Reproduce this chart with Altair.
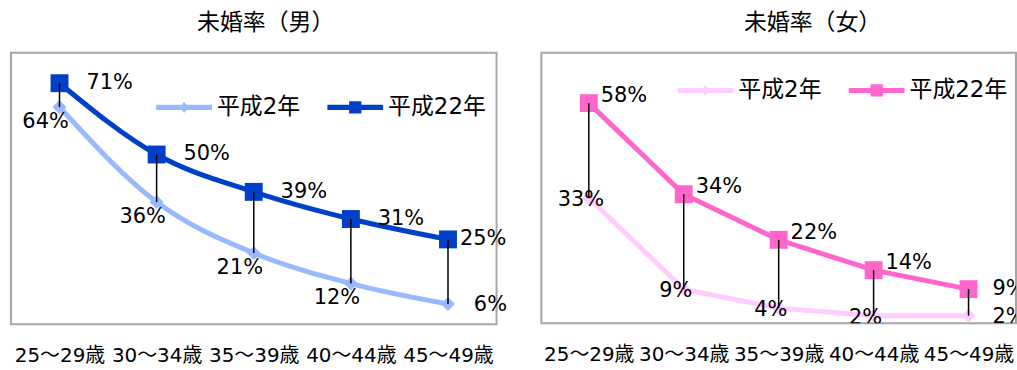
import altair as alt
import pandas as pd

categories = ["25～29歳", "30～34歳", "35～39歳", "40～44歳", "45～49歳"]
series_names = ["平成2年", "平成22年"]
male_h2 = [64, 36, 21, 12, 6]
male_h22 = [71, 50, 39, 31, 25]
female_h2 = [33, 9, 4, 2, 2]
female_h22 = [58, 34, 22, 14, 9]

male_colors = ["#99B9FF", "#0040C8"]
female_colors = ["#FFCCFF", "#FF66CC"]

FONT = "DejaVu Sans, Noto Sans CJK JP"
CJK = "Noto Sans CJK JP"

LEGEND_LINE = "M-1,-0.09L1,-0.09L1,0.09L-1,0.09Z"
SQUARE_PATH = LEGEND_LINE + " M-0.22,-0.22L0.22,-0.22L0.22,0.22L-0.22,0.22Z"
DIAMOND_PATH = LEGEND_LINE + " M-0.15,0L0,-0.2L0.15,0L0,0.2Z"


def panel(title, h2, h22, ymax, colors, interp, title_dx, title_offset,
          legend_x, legend_y, clip, width, height, h22_off, h2_off, last_h22, last_h2):
    n = len(categories)
    long = pd.DataFrame({
        "cat": categories * 2,
        "series": [series_names[0]] * n + [series_names[1]] * n,
        "value": h2 + h22,
        "idx": list(range(n)) * 2,
    })
    wide = pd.DataFrame({"cat": categories, "h2": h2, "h22": h22})

    x = alt.X("cat:N", sort=categories,
              scale=alt.Scale(type="point", padding=0.5),
              axis=alt.Axis(title=None, labelAngle=0, domain=False, ticks=False,
                            grid=False, labelFont=FONT, labelFontSize=20,
                            labelColor="black", labelPadding=21,
                            labelOverlap=False))
    yscale = alt.Scale(domain=[0, ymax], nice=False, zero=True)
    y = alt.Y("value:Q", scale=yscale, axis=None)

    base = alt.Chart(long).transform_calculate(label="datum.value + '%'")
    s0 = f"datum.series == '{series_names[0]}'"
    s1 = f"datum.series == '{series_names[1]}'"

    layers = []
    layers.append(base.transform_filter(s0).mark_line(
        color=colors[0], strokeWidth=5, interpolate=interp).encode(x=x, y=y))
    layers.append(base.transform_filter(s1).mark_line(
        color=colors[1], strokeWidth=5, interpolate=interp).encode(x=x, y=y))
    layers.append(base.transform_filter(s0).mark_point(
        shape="diamond", filled=True, size=200, color=colors[0], opacity=1,
        strokeWidth=0).encode(x=x, y=y))
    layers.append(base.transform_filter(s1).mark_square(
        size=324, color=colors[1], opacity=1, strokeWidth=0).encode(x=x, y=y))
    layers.append(alt.Chart(wide).mark_rule(color="black", strokeWidth=1.5).encode(
        x=x, y=alt.Y("h2:Q", scale=yscale, axis=None), y2="h22:Q"))

    def txt(filt, align, dx, dy):
        return base.transform_filter(filt).mark_text(
            font=FONT, fontSize=21, color="black", align=align, baseline="middle",
            dx=dx, dy=dy, clip=clip).encode(x=x, y=y, text="label:N")

    last = f"datum.idx == {n - 1}"
    notlast = f"datum.idx < {n - 1}"
    layers.append(txt(f"{s1} && {notlast}", "left", *h22_off))
    layers.append(txt(f"{s1} && {last}", "left", *last_h22))
    layers.append(txt(f"{s0} && {notlast}", "center", *h2_off))
    layers.append(txt(f"{s0} && {last}", "left", *last_h2))

    leg = alt.Legend(title=None, orient="none", legendX=legend_x, legendY=legend_y,
                     direction="horizontal", symbolSize=3136, symbolStrokeWidth=0,
                     labelFont=FONT, labelFontSize=23, labelColor="black",
                     labelOffset=5, columnPadding=27, padding=0, symbolOpacity=1)
    layers.append(base.transform_filter("false").mark_point(filled=True).encode(
        x=x, y=y,
        color=alt.Color("series:N", scale=alt.Scale(domain=series_names, range=colors),
                        legend=leg),
        shape=alt.Shape("series:N",
                        scale=alt.Scale(domain=series_names,
                                        range=[DIAMOND_PATH, SQUARE_PATH]),
                        legend=leg)))

    return alt.layer(*layers).properties(
        width=width, height=height,
        title=alt.TitleParams(text=title, font=CJK, fontSize=23, fontWeight="normal",
                              color="black", anchor="middle", offset=18,
                              dx=title_dx))


left = panel("未婚率（男）", male_h2, male_h22, 80, male_colors, "monotone",
             12, 18, 146, 27, False, 488, 273,
             (27, 0), (-14, 15), (12, 0), (26, 1))
right = panel("未婚率（女）", female_h2, female_h22, 71.3, female_colors, "linear",
              34, 18, 137, 10, True, 477, 272,
              (12, -7), (-8, 2), (24, 0), (24, 1))

chart = alt.hconcat(left, right, spacing=32).resolve_scale(
    color="independent", shape="independent", x="independent", y="independent"
).resolve_legend(color="independent", shape="independent").properties(
    padding={"left": 10, "top": 10, "right": 0, "bottom": 0}
).configure_view(stroke="#A6A6A6", strokeWidth=2)

chart.save("out.html", embed_options={"renderer": "svg", "actions": False})
